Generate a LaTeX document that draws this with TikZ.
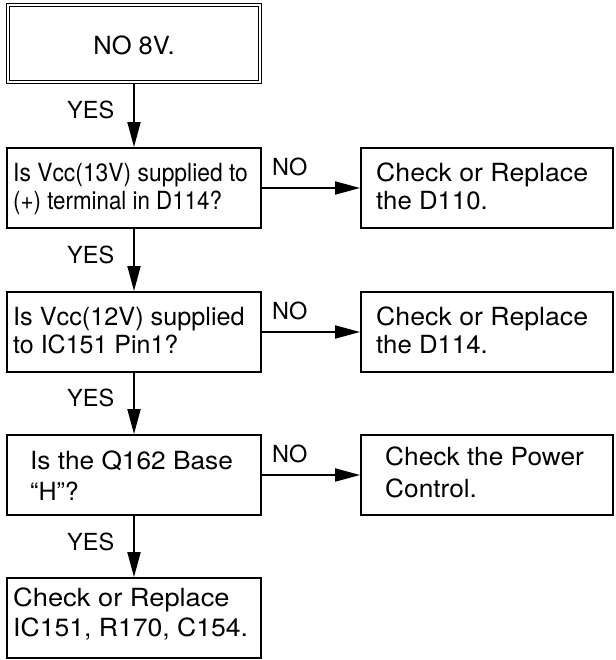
\documentclass[tikz,border=0pt]{standalone}
\usepackage{fontspec}
\setmainfont{TeX Gyre Heros}
\usetikzlibrary{arrows.meta}
\begin{document}
\begin{tikzpicture}[x=1pt,y=-1pt,
  box/.style={draw, line width=1.8pt, inner sep=0pt, minimum height=80pt},
  lbox/.style={box, minimum width=254pt},
  rbox/.style={box, minimum width=252pt},
  startbox/.style={draw, double, line width=1pt, double distance=2pt, inner sep=0pt,
                   minimum width=252pt, minimum height=77pt},
  txt/.style={anchor=base west, inner sep=0pt, font=\fontsize{25}{29}\selectfont},
  lbl/.style={anchor=base west, inner sep=0pt, font=\fontsize{23.5}{27}\selectfont},
  flow/.style={line width=1.8pt, -{Triangle[length=25pt,width=13pt]}}]
\useasboundingbox (0,0) rectangle (615,660);

% boxes
\node[startbox] (start) at (134,44) {};
\node[lbox] (q1) at (134,188) {};
\node[lbox] (q2) at (134,332) {};
\node[lbox] (q3) at (134,475) {};
\node[lbox] (fin) at (134,618) {};
\node[rbox] (r1) at (487,188) {};
\node[rbox] (r2) at (487,332) {};
\node[rbox] (r3) at (487,475) {};

% texts
\node[txt, anchor=base] (tstart) at (134,55) {\scalebox{1.02}[1]{NO 8V.}};
\node[txt] (t1a) at (13,182) {\scalebox{0.914}[1]{Is Vcc(13V) supplied to}};
\node[txt] (t1b) at (13,210) {\scalebox{0.893}[1]{(+) terminal in D114?}};
\node[txt] (t2a) at (13,325) {\scalebox{1.01}[1]{Is Vcc(12V) supplied}};
\node[txt] (t2b) at (13,353) {to IC151 Pin1?};
\node[txt] (t3a) at (30,469) {\scalebox{1.05}[1]{Is the Q162 Base}};
\node[txt] (t3b) at (30,500) {“H”?};
\node[txt] (tfa) at (13,606) {\scalebox{1.09}[1]{Check or Replace}};
\node[txt] (tfb) at (13,636) {\scalebox{1.063}[1]{IC151, R170, C154.}};
\node[txt] (r1a) at (376,182) {\scalebox{1.067}[1]{Check or Replace}};
\node[txt] (r1b) at (376,210) {\scalebox{1.03}[1]{the D110.}};
\node[txt] (r2a) at (376,325) {\scalebox{1.067}[1]{Check or Replace}};
\node[txt] (r2b) at (376,353) {\scalebox{1.03}[1]{the D114.}};
\node[txt] (r3a) at (385,465) {\scalebox{1.05}[1]{Check the Power}};
\node[txt] (r3b) at (385,497) {\scalebox{1.05}[1]{Control.}};

% connectors
\draw[flow] (start.south) -- (q1.north);
\draw[flow] (q1.south) -- (q2.north);
\draw[flow] (q2.south) -- (q3.north);
\draw[flow] (q3.south) -- (fin.north);
\draw[flow] (q1.east) -- (r1.west);
\draw[flow] (q2.east) -- (r2.west);
\draw[flow] (q3.east) -- (r3.west);

% labels
\node[lbl] (y1) at (67,119) {YES};
\node[lbl] (y2) at (67,263) {YES};
\node[lbl] (y3) at (67,406) {YES};
\node[lbl] (y4) at (67,550) {YES};
\node[lbl] (n1) at (272,176) {NO};
\node[lbl] (n2) at (272,319) {NO};
\node[lbl] (n3) at (272,462) {NO};
\end{tikzpicture}
\end{document}
